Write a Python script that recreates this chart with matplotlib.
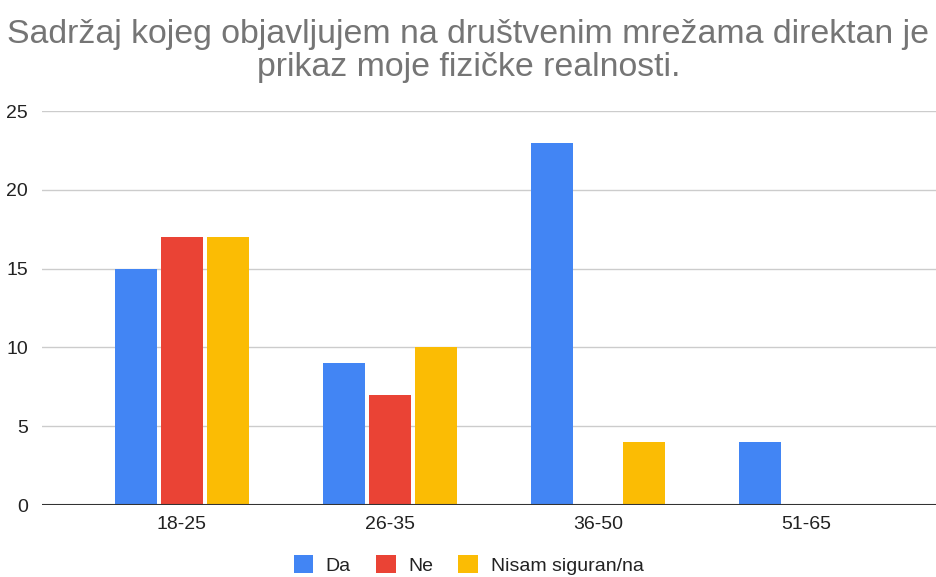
import numpy as np
import matplotlib.pyplot as plt

plt.rcParams['font.family'] = ['Liberation Sans', 'DejaVu Sans']

# data
# ----
categories = ["18-25", "26-35", "36-50", "51-65"]
series = ["Da", "Ne", "Nisam siguran/na"]
da = [15, 9, 23, 4]
ne = [17, 7, 0, 0]
nisam = [17, 10, 4, 0]
colors = ["#4285f4", "#ea4335", "#fbbc04"]

fig = plt.figure(figsize=(9.37, 5.77), dpi=100)
ax = fig.add_axes([42 / 937, 1 - 505 / 577, 1 - 42 / 937, 394 / 577])

x = np.arange(len(categories))
width = 0.2
offsets = [-0.222, 0, 0.222]
for vals, off, col, name in zip([da, ne, nisam], offsets, colors, series):
    ax.bar(x + off, vals, width, color=col, label=name, zorder=3)

ax.set_xlim(-0.673, 3.63)
ax.set_ylim(0, 25)
ax.set_yticks([0, 5, 10, 15, 20, 25])
ax.set_xticks(x)
ax.set_xticklabels(categories)
ax.grid(axis="y", color="#cccccc", linewidth=1, zorder=0)
ax.axhline(0, color="#333333", linewidth=1.5, zorder=4)
for s in ax.spines.values():
    s.set_visible(False)
ax.tick_params(axis="both", length=0, labelsize=14, colors="#222222")
ax.tick_params(axis="y", pad=10)
ax.tick_params(axis="x", pad=8)

fig.text(0.5, 1 - 51 / 577, "Sadržaj kojeg objavljujem na društvenim mrežama direktan je\nprikaz moje fizičke realnosti.",
         ha="center", va="center", fontsize=24.4, color="#757575", linespacing=1.12)

leg = fig.legend(loc="center", bbox_to_anchor=(0.5, 1 - 565 / 577), ncol=3, frameon=False,
                 fontsize=14, handlelength=1.0, handleheight=1.0, columnspacing=1.3,
                 handletextpad=0.65)
for t in leg.get_texts():
    t.set_color("#222222")

fig.savefig("out.png", dpi=100)
